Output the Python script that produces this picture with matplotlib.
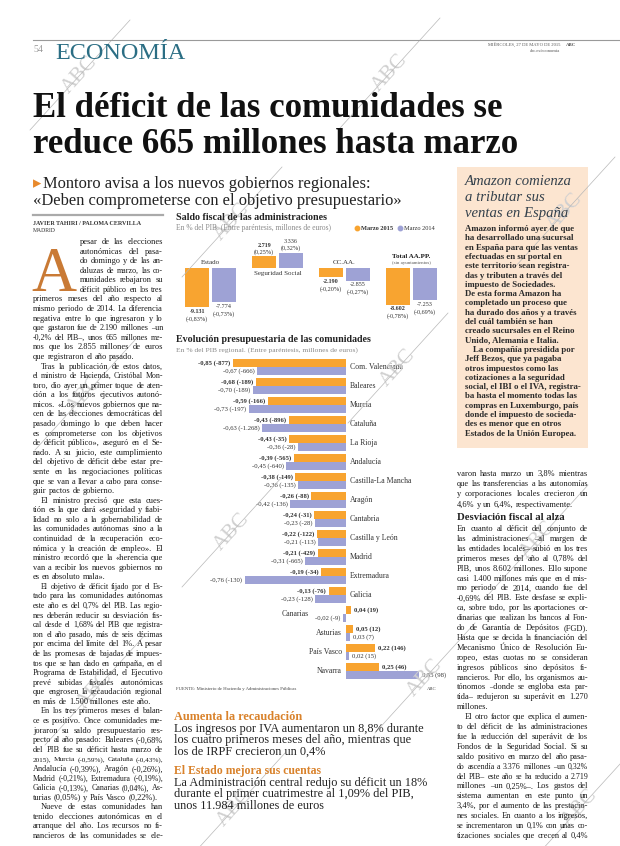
import matplotlib
matplotlib.use('Agg')
import matplotlib.pyplot as plt
from matplotlib.font_manager import FontProperties
from matplotlib.lines import Line2D
import numpy as np

# ---------------- DATA ----------------
groups = ['Estado', 'Seguridad Social', 'CC.AA.', 'Total AA.PP.']
pct_2015 = [-0.83, 0.25, -0.20, -0.78]
pct_2014 = [-0.73, 0.32, -0.27, -0.69]
mill_2015 = [-9131, 2719, -2190, -8602]
mill_2014 = [-7774, 3336, -2855, -7253]

regions = ['Com. Valenciana', 'Baleares', 'Murcia', 'Cataluña', 'La Rioja', 'Andalucía',
           'Castilla-La Mancha', 'Aragón', 'Cantabria', 'Castilla y León', 'Madrid',
           'Extremadura', 'Galicia', 'Canarias', 'Asturias', 'País Vasco', 'Navarra']
pib_2015 = [-0.85, -0.68, -0.59, -0.43, -0.43, -0.39, -0.38, -0.26, -0.24, -0.22, -0.21,
            -0.19, -0.13, 0.04, 0.05, 0.22, 0.25]
pib_2014 = [-0.67, -0.70, -0.73, -0.63, -0.36, -0.45, -0.36, -0.42, -0.23, -0.21, -0.31,
            -0.76, -0.23, -0.02, 0.03, 0.02, 0.55]
reg_mill_2015 = [-877, -189, -166, -896, -35, -565, -149, -88, -31, -122, -429, -34, -76,
                 19, 12, 146, 46]
reg_mill_2014 = [-666, -189, -197, -1268, -28, -640, -135, -136, -28, -113, -665, -130,
                 -128, -9, 7, 15, 98]
legend_labels = ['Marzo 2015', 'Marzo 2014']

# ---------------- TEXT ----------------
headline = ['El déficit de las comunidades se', 'reduce 665 millones hasta marzo']
subhead = ['Montoro avisa a los nuevos gobiernos regionales:',
           '«Deben comprometerse con el objetivo presupuestario»']
left_col = [
    'pesar de las elecciones', 'autonómicas del pasa-', 'do domingo y de las an-',
    'daluzas de marzo, las co-', 'munidades rebajaron su', 'déficit público en los tres',
    'primeros meses del año respecto al', 'mismo periodo de 2014. La diferencia',
    'negativa entre lo que ingresaron y lo', 'que gastaron fue de 2.190 millones –un',
    '-0,2% del PIB–, unos 665 millones me-', 'nos que los 2.855 millones de euros',
    'que registraron el año pasado.¶',
    '>Tras la publicación de estos datos,', 'el ministro de Hacienda, Cristóbal Mon-',
    'toro, dio ayer un primer toque de aten-', 'ción a los futuros ejecutivos autonó-',
    'micos. «Los nuevos gobiernos que na-', 'cen de las elecciones democráticas del',
    'pasado domingo lo que deben hacer', 'es comprometerse con los objetivos',
    'de déficit público», aseguró en el Se-', 'nado. A su juicio, este cumplimiento',
    'del objetivo de déficit debe estar pre-', 'sente en las negociaciones políticas',
    'que se van a llevar a cabo para conse-', 'guir pactos de gobierno.¶',
    '>El ministro precisó que esta cues-', 'tión es la que dará «seguridad y fiabi-',
    'lidad no solo a la gobernabilidad de', 'las comunidades autónomas sino a la',
    'continuidad de la recuperación eco-', 'nómica y la creación de empleo». El',
    'ministro recordó que la «herencia que', 'van a recibir los nuevos gobiernos no',
    'es en absoluto mala».¶',
    '>El objetivo de déficit fijado por el Es-', 'tado para las comunidades autónomas',
    'este año es del 0,7% del PIB. Las regio-', 'nes deberán reducir su desviación fis-',
    'cal desde el 1,68% del PIB que registra-', 'ron el año pasado, más de seis décimas',
    'por encima del límite del 1%. A pesar', 'de las promesas de bajadas de impues-',
    'tos que se han dado en campaña, en el', 'Programa de Estabilidad, el Ejecutivo',
    'prevé subidas fiscales autonómicas', 'que engrosen la recaudación regional',
    'en más de 1.500 millones este año.¶',
    '>En los tres primeros meses el balan-', 'ce es positivo. Once comunidades me-',
    'joraron su saldo presupuestario res-', 'pecto al año pasado: Baleares (-0,68%',
    'del PIB fue su déficit hasta marzo de', '2015), Murcia (-0,59%), Cataluña (-0,43%),',
    'Andalucía (-0,39%), Aragón (-0,26%),', 'Madrid (-0,21%), Extremadura (-0,19%),',
    'Galicia (-0,13%), Canarias (0,04%), As-', 'turias (0,05%) y País Vasco (0,22%).¶',
    '>Nueve de estas comunidades han', 'tenido elecciones autonómicas en el',
    'arranque del año. Los recursos no fi-', 'nancieros de las comunidades se ele-']
right_col_a = ['varon hasta marzo un 3,8% mientras', 'que las transferencias a las autonomías',
               'y corporaciones locales crecieron un', '4,6% y un 6,4%, respectivamente.¶']
right_col_b = [
    'En cuanto al déficit del conjunto de', 'las administraciones –al margen de',
    'las entidades locales– subió en los tres', 'primeros meses del año al 0,78% del',
    'PIB, unos 8.602 millones. Ello supone', 'casi 1.400 millones más que en el mis-',
    'mo periodo de 2014, cuando fue del', '-0,69% del PIB. Este desfase se expli-',
    'ca, sobre todo, por las aportaciones or-', 'dinarias que realizan los bancos al Fon-',
    'do de Garantía de Depósitos (FGD).', 'Hasta que se decida la financiación del',
    'Mecanismo Único de Resolución Eu-', 'ropeo, estas cuotas no se consideran',
    'ingresos públicos sino depósitos fi-', 'nancieros. Por ello, los organismos au-',
    'tónomos –donde se engloba esta par-', 'tida– redujeron su superávit en 1.270',
    'millones.¶',
    '>El otro factor que explica el aumen-', 'to del déficit de las administraciones',
    'fue la reducción del superávit de los', 'Fondos de la Seguridad Social. Si su',
    'saldo positivo en marzo del año pasa-', 'do ascendía a 3.376 millones –un 0,32%',
    'del PIB– este año se ha reducido a 2.719', 'millones –un 0,25%–. Los gastos del',
    'sistema aumentan en este punto un', '3,4%, por el aumento de las prestacio-',
    'nes sociales. En cuanto a los ingresos,', 'se incrementaron un 0,1% con unas co-',
    'tizaciones sociales que crecen al 0,4%']
box_title = ['Amazon comienza', 'a tributar sus', 'ventas en España']
box_body = [
    'Amazon informó ayer de que', 'ha desarrollado una sucursal', 'en España para que las ventas',
    'efectuadas en su portal en', 'este territorio sean registra-', 'das y tributen a través del',
    'impuesto de Sociedades.', 'De esta forma Amazon ha', 'completado un proceso que',
    'ha durado dos años y a través', 'del cuál también se han', 'creado sucursales en el Reino',
    'Unido, Alemania e Italia.', '>La compañía presidida por', 'Jeff Bezos, que ya pagaba',
    'otros impuestos como las', 'cotizaciones a la seguridad', 'social, el IBI o el IVA, registra-',
    'ba hasta el momento todas las', 'compras en Luxemburgo, país', 'donde el impuesto de socieda-',
    'des es menor que en otros', 'Estados de la Unión Europea.']
side1_title = 'Aumenta la recaudación'
side1_body = ['Los ingresos por IVA aumentaron un 8,8% durante',
              'los cuatro primeros meses del año, mientras que',
              'los de IRPF crecieron un 0,4%']
side2_title = 'El Estado mejora sus cuentas'
side2_body = ['La Administración central redujo su déficit un 18%',
              'durante el primer cuatrimestre al 1,09% del PIB,',
              'unos 11.984 millones de euros']

# ---------------- SETUP ----------------
W, H = 620, 846
fig = plt.figure(figsize=(6.2, 8.46), dpi=100)
fig.patch.set_facecolor('white')
renderer = fig.canvas.get_renderer()
SERIF = 'Liberation Serif'
ORANGE = '#f8a430'
PURPLE = '#9ea2d5'
DARK = '#1a1a1a'
GRAY = '#8a8a8a'


def fx(x):
    return x / W


def fy(y):
    return 1 - y / H


def tw(s, size, weight='normal', style='normal'):
    fp = FontProperties(family=SERIF, size=size, weight=weight, style=style)
    w, h, d = renderer.get_text_width_height_descent(s, fp, ismath=False)
    return w


def fit(s, width, weight='normal', style='normal'):
    return 10.0 * width / tw(s, 10.0, weight, style)


def T(x, y, s, size, weight='normal', color=DARK, ha='left', va='baseline', style='normal', **kw):
    return fig.text(fx(x), fy(y), s, fontsize=size, fontweight=weight, color=color,
                    ha=ha, va=va, fontstyle=style, family=SERIF, **kw)


def jline(x0, x1, y, s, size, weight='normal', color=DARK, indent=8):
    just = True
    if s.endswith('¶'):
        s = s[:-1]
        just = False
    if s.startswith('>'):
        s = s[1:]
        x0 = x0 + indent
    words = s.split(' ')
    sz = size
    sp = tw('a a', sz, weight) - tw('aa', sz, weight)
    widths = [tw(w, sz, weight) for w in words]
    total = sum(widths)
    avail = x1 - x0
    n = len(words)
    natural = total + sp * (n - 1)
    if natural > avail:
        sz = size * avail / natural * 0.995
        sp = tw('a a', sz, weight) - tw('aa', sz, weight)
        widths = [tw(w, sz, weight) for w in words]
        total = sum(widths)
    if not just or n == 1:
        gap = sp
    else:
        gap = (avail - total) / (n - 1)
    x = x0
    for w, wd in zip(words, widths):
        T(x, y, w, sz, weight, color)
        x += wd + gap


# ---------------- WATERMARKS ----------------
wm_pos = [(80, 75), (390, 73), (565, 212), (232, 222), (398, 368), (232, 532),
          (425, 678), (235, 808), (580, 808), (85, 395), (95, 690), (538, 540)]
for (cx, cy) in wm_pos:
    fig.add_artist(Line2D([fx(cx - 50), fx(cx + 50)], [fy(cy + 55), fy(cy - 55)],
                          color='#b8b8b8', lw=0.5, zorder=0.5))
    T(cx, cy, 'ABC', 15, color='#d0d0d0', ha='center', va='center', rotation=48, zorder=0.4)

# ---------------- HEADER ----------------
fig.add_artist(Line2D([fx(33), fx(620)], [fy(40), fy(40)], color='#9a9a9a', lw=0.8))
T(33, 52, '54', 7.0, color='#9a9a9a')
T(55, 59, 'ECONOMÍA', fit('ECONOMÍA', 130), color='#2b6e84')
T(560, 46, 'MIÉRCOLES, 27 DE MAYO DE 2015', 3.3, color='#555', ha='right')
T(576, 46, 'ABC', 3.5, weight='bold', color='#555', ha='right')
T(560, 52, 'abc.es/economia', 3.3, color='#555', ha='right')

hsize = fit(headline[0], 472, 'bold')
T(33, 117, headline[0], hsize, weight='bold', color='#111')
T(33, 153, headline[1], hsize, weight='bold', color='#111')

ssize = fit(subhead[1], 367)
fig.text(fx(33), fy(188), '▸', fontsize=ssize, color='#e8892b', family='DejaVu Sans', va='baseline')
T(43, 188, subhead[0], ssize, color='#222')
T(33, 205, subhead[1], ssize, color='#222')

# ---------------- LEFT COLUMN ----------------
fig.add_artist(Line2D([fx(33), fx(163)], [fy(215), fy(215)], color='#aaaaaa', lw=1.6))
T(33, 225, 'JAVIER TAHIRI / PALOMA CERVILLA', 4.3, weight='bold', color='#333')
T(33, 231.5, 'MADRID', 4.1, color='#333')
T(31, 291, 'A', 45, color='#c97a35')
body_size = 6.0
pitch_l = (838 - 244) / (len(left_col) - 1)
for i, line in enumerate(left_col):
    y = 244 + i * pitch_l
    x0 = 80 if i < 6 else 33
    jline(x0, 163, y, line, body_size)

# ---------------- RIGHT COLUMN ----------------
for i, line in enumerate(right_col_a):
    jline(457, 588, 476 + i * 10.2, line, body_size)
T(457, 520, 'Desviación fiscal al alza', fit('Desviación fiscal al alza', 108, 'bold'),
  weight='bold', color='#222')
pitch_r = (838 - 531) / (len(right_col_b) - 1)
for i, line in enumerate(right_col_b):
    jline(457, 588, 531 + i * pitch_r, line, body_size)

# ---------------- AMAZON BOX ----------------
fig.add_artist(plt.Rectangle((fx(457), fy(448)), (588 - 457) / W, (448 - 167) / H,
                             transform=fig.transFigure, facecolor='#fce5d0',
                             edgecolor='none', zorder=0.3))
tsize = fit(box_title[0], 107, style='italic')
for i, line in enumerate(box_title):
    T(465, 185 + i * 15.8, line, tsize, style='italic', color='#34414c')
bsize = fit(box_body[1], 109, 'bold')
for i, line in enumerate(box_body):
    x0 = 465
    if line.startswith('>'):
        line = line[1:]
        x0 = 473
    T(x0, 231 + i * 9.3, line, bsize, weight='bold', color='#2a2a2a')

# ---------------- CHART 1 ----------------
T(176, 220, 'Saldo fiscal de las administraciones',
  fit('Saldo fiscal de las administraciones', 151, 'bold'), weight='bold', color='#222')
T(176, 230, 'En % del PIB. (Entre paréntesis, millones de euros)',
  fit('En % del PIB. (Entre paréntesis, millones de euros)', 155), color=GRAY)
lsz = 4.6
fig.add_artist(Line2D([fx(357)], [fy(228.3)], marker='o', ms=3.2, color=ORANGE, lw=0))
T(361, 230, legend_labels[0], lsz, weight='bold', color='#333')
fig.add_artist(Line2D([fx(400)], [fy(228.3)], marker='o', ms=3.2, color=PURPLE, lw=0))
T(404, 230, legend_labels[1], lsz, color='#333')

ax1 = fig.add_axes([fx(176), fy(330), (440 - 176) / W, (330 - 236) / H])
ax1.set_xlim(-0.515, 3.425)
ax1.set_ylim(-1.319, 0.681)
ax1.axis('off')
xg = np.arange(len(groups))
ax1.bar(xg - 0.2, pct_2015, width=0.358, color=ORANGE)
ax1.bar(xg + 0.2, pct_2014, width=0.358, color=PURPLE)


def fmt_int(v):
    s = f'{abs(v):,}'.replace(',', '.')
    return ('-' if v < 0 else '') + s


def fmt_dec(v, nd=2):
    return f'{v:.{nd}f}'.replace('.', ',')


vs = 4.4
for i in range(len(groups)):
    for dx, p, m, wt in [(-0.2, pct_2015[i], mill_2015[i], 'bold'),
                         (0.2, pct_2014[i], mill_2014[i], 'normal')]:
        if p < 0:
            ax1.annotate(fmt_int(m), (xg[i] + dx, p), xytext=(0, -1.2), textcoords='offset points',
                         ha='center', va='top', fontsize=vs, fontweight=wt, family=SERIF, color='#333')
            ax1.annotate('(' + fmt_dec(p) + '%)', (xg[i] + dx, p), xytext=(0, -6.3),
                         textcoords='offset points', ha='center', va='top', fontsize=vs,
                         family=SERIF, color='#333')
        else:
            ax1.annotate(fmt_int(m), (xg[i] + dx, p), xytext=(0, 6.3), textcoords='offset points',
                         ha='center', va='bottom', fontsize=vs, fontweight=wt, family=SERIF, color='#333')
            ax1.annotate('(' + fmt_dec(p) + '%)', (xg[i] + dx, p), xytext=(0, 1.2),
                         textcoords='offset points', ha='center', va='bottom', fontsize=vs,
                         family=SERIF, color='#333')
gs = 5.0
for i, g in enumerate(groups):
    if pct_2015[i] > 0:
        ax1.annotate(g, (xg[i], 0), xytext=(0, -2.5), textcoords='offset points', ha='center',
                     va='top', fontsize=gs, family=SERIF, color='#333')
    elif i == len(groups) - 1:
        ax1.annotate(g, (xg[i], 0), xytext=(0, 6.5), textcoords='offset points', ha='center',
                     va='bottom', fontsize=gs, fontweight='bold', family=SERIF, color='#222')
        ax1.annotate('(sin ayuntamientos)', (xg[i], 0), xytext=(0, 2.0), textcoords='offset points',
                     ha='center', va='bottom', fontsize=3.5, family=SERIF, color='#555')
    else:
        ax1.annotate(g, (xg[i], 0), xytext=(0, 2.5), textcoords='offset points', ha='center',
                     va='bottom', fontsize=gs, family=SERIF, color='#333')

# ---------------- CHART 2 ----------------
T(176, 342, 'Evolución presupuestaria de las comunidades',
  fit('Evolución presupuestaria de las comunidades', 196, 'bold'), weight='bold', color='#222')
T(176, 352, 'En % del PIB regional. (Entre paréntesis, millones de euros)',
  fit('En % del PIB regional. (Entre paréntesis, millones de euros)', 181), color=GRAY)

ax2 = fig.add_axes([fx(176), fy(685), (440 - 176) / W, (685 - 352) / H])
ax2.set_xlim((176 - 346) / 133, (440 - 346) / 133)
ax2.set_ylim((685 - 367) / 19, (352 - 367) / 19)
ax2.axis('off')
yr = np.arange(len(regions))
ax2.barh(yr - 0.21, pib_2015, height=0.42, color=ORANGE)
ax2.barh(yr + 0.21, pib_2014, height=0.42, color=PURPLE)

rs = fit('Com. Valenciana', 53)
ls = fit('-0,85 (-877)', 32, 'bold')
for i, r in enumerate(regions):
    for dy, p, m, wt in [(-0.21, pib_2015[i], reg_mill_2015[i], 'bold'),
                         (0.21, pib_2014[i], reg_mill_2014[i], 'normal')]:
        lab = fmt_dec(p) + ' (' + fmt_int(m) + ')'
        if p < 0:
            ax2.annotate(lab, (p, yr[i] + dy), xytext=(-1.8, 0), textcoords='offset points',
                         ha='right', va='center', fontsize=ls, fontweight=wt, family=SERIF, color='#333')
        else:
            ax2.annotate(lab, (p, yr[i] + dy), xytext=(2.2, 0), textcoords='offset points',
                         ha='left', va='center', fontsize=ls, fontweight=wt, family=SERIF, color='#333')
    if pib_2015[i] < 0:
        ax2.annotate(r, (0, yr[i]), xytext=(2.8, 0), textcoords='offset points', ha='left',
                     va='center', fontsize=rs, family=SERIF, color='#333')
    else:
        off = -2.8
        if pib_2014[i] < 0:
            off -= (tw(fmt_dec(pib_2014[i]) + ' (' + fmt_int(reg_mill_2014[i]) + ')', ls) + 8) * 0.72
        ax2.annotate(r, (0, yr[i]), xytext=(off, 0), textcoords='offset points', ha='right',
                     va='center', fontsize=rs, family=SERIF, color='#333')

T(176, 690, 'FUENTE: Ministerio de Hacienda y Administraciones Públicas', 3.4, color='#444')
T(437, 690, 'ABC', 3.4, color='#444', ha='right')

# ---------------- SIDE NOTES ----------------
s1 = fit(side1_body[0], 249)
T(174, 720, side1_title, fit(side1_title, 128, 'bold'), weight='bold', color='#d9822b')
for i, l in enumerate(side1_body):
    T(174, 732 + i * 11.3, l, s1, color='#222')
T(174, 774, side2_title, fit(side2_title, 148, 'bold'), weight='bold', color='#d9822b')
for i, l in enumerate(side2_body):
    T(174, 786 + i * 11.3, l, s1, color='#222')

fig.savefig('out.png', dpi=100, facecolor='white')
